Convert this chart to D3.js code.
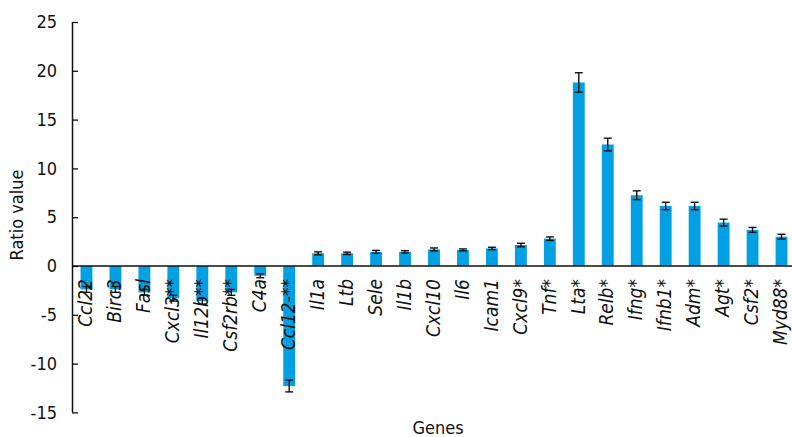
<!DOCTYPE html>
<html>
<head>
<meta charset="utf-8">
<script src="https://cdn.jsdelivr.net/npm/d3@7"></script>
<style>
  html, body { margin: 0; padding: 0; background: #fff; }
  svg { display: block; }
  text { font-family: "DejaVu Sans", sans-serif; font-stretch: condensed; fill: #111; }
</style>
</head>
<body>
<svg id="chart" width="792" height="437"></svg>
<script>
// Gene names (with significance marks) in plotted order
const genes = ["Ccl22", "Birc3", "Fasl", "Cxcl3**", "Il12b**", "Csf2rb**", "C4a", "Ccl12-**",
  "Il1a", "Ltb", "Sele", "Il1b", "Cxcl10", "Il6", "Icam1", "Cxcl9*", "Tnf*", "Lta*",
  "Relb*", "Ifng*", "Ifnb1*", "Adm*", "Agt*", "Csf2*", "Myd88*"];
// Mean ratio value per gene
const ratios = [-2.4, -2.4, -2.7, -3.3, -3.6, -2.7, -1.0, -12.3,
  1.3, 1.3, 1.45, 1.45, 1.7, 1.65, 1.8, 2.15, 2.8, 18.8,
  12.45, 7.25, 6.15, 6.15, 4.45, 3.7, 3.0];
// Error (half-length of the error bar)
const errors = [0.3, 0.3, 0.3, 0.3, 0.3, 0.3, 0.2, 0.6,
  0.15, 0.12, 0.15, 0.12, 0.15, 0.1, 0.12, 0.18, 0.18, 1.0,
  0.65, 0.45, 0.38, 0.38, 0.35, 0.25, 0.25];
const yTicks = [-15, -10, -5, 0, 5, 10, 15, 20, 25];

const svg = d3.select("#chart");
const barColor = "#00a0e3";

const x = d3.scaleBand()
  .domain(genes)
  .range([72, 796])
  .paddingInner(0.59)
  .paddingOuter(0.295);

const y = d3.scaleLinear()
  .domain([-15, 25])
  .range([412.4, 22]);

// Bars
svg.append("g")
  .selectAll("rect")
  .data(genes)
  .join("rect")
  .attr("x", d => x(d))
  .attr("width", x.bandwidth())
  .attr("y", (d, i) => y(Math.max(0, ratios[i])))
  .attr("height", (d, i) => Math.abs(y(ratios[i]) - y(0)))
  .attr("fill", barColor);

// Error bars
const capW = 8;
const eb = svg.append("g")
  .attr("stroke", "#111")
  .attr("stroke-width", 1.4);
genes.forEach((g, i) => {
  const cx = x(g) + x.bandwidth() / 2;
  const y1 = y(ratios[i] + errors[i]);
  const y2 = y(ratios[i] - errors[i]);
  eb.append("line").attr("x1", cx).attr("x2", cx).attr("y1", y1).attr("y2", y2);
  eb.append("line").attr("x1", cx - capW / 2).attr("x2", cx + capW / 2).attr("y1", y1).attr("y2", y1);
  eb.append("line").attr("x1", cx - capW / 2).attr("x2", cx + capW / 2).attr("y1", y2).attr("y2", y2);
});

// Zero line (category axis)
svg.append("line")
  .attr("x1", 72).attr("x2", 792)
  .attr("y1", y(0)).attr("y2", y(0))
  .attr("stroke", "#111").attr("stroke-width", 1.5);

// Value axis with inward ticks
const yAxis = svg.append("g")
  .attr("transform", "translate(72,0)")
  .call(d3.axisRight(y).tickValues(yTicks).tickSize(6).tickFormat(d => String(d)));
yAxis.select(".domain").attr("stroke", "#111").attr("stroke-width", 1.5).attr("d", `M0.5,${y(25)}V${y(-15)}`);
yAxis.selectAll(".tick line").attr("stroke", "#111").attr("stroke-width", 1.3);
yAxis.selectAll(".tick text")
  .attr("x", -15)
  .attr("text-anchor", "end")
  .attr("font-size", 18)
  .attr("font-family", "'DejaVu Sans', sans-serif")
  .attr("fill", "#111");

// Gene labels, rotated, hanging below the zero line
svg.append("g")
  .selectAll("text")
  .data(genes)
  .join("text")
  .attr("transform", d => `translate(${x(d) + x.bandwidth() / 2},279) rotate(-90)`)
  .attr("text-anchor", "end")
  .attr("dy", "0.3em")
  .attr("font-size", 19)
  .attr("font-style", "italic")
  .text(d => d);

// Axis titles
svg.append("text")
  .attr("transform", "translate(17,215) rotate(-90)")
  .attr("text-anchor", "middle")
  .attr("dy", "0.36em")
  .attr("font-size", 18)
  .text("Ratio value");

svg.append("text")
  .attr("x", 438)
  .attr("y", 434)
  .attr("text-anchor", "middle")
  .attr("font-size", 18)
  .text("Genes");
</script>
</body>
</html>
